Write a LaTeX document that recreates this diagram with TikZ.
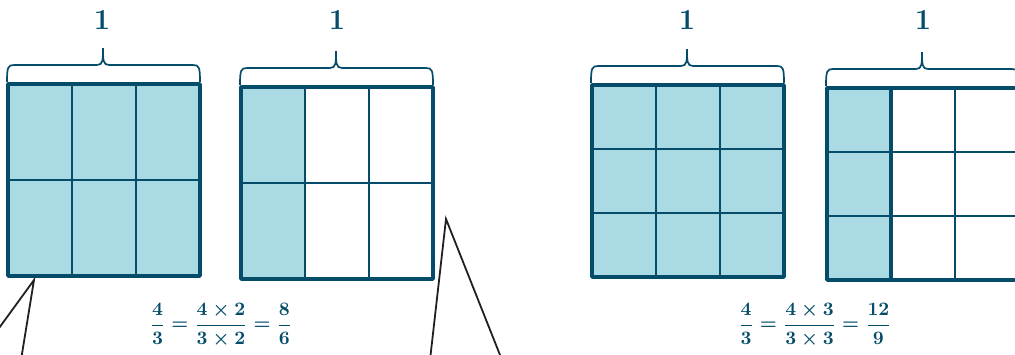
\documentclass[tikz,border=0pt]{standalone}
\usepackage{amsmath}
\usepackage{graphicx}
\usepackage{xcolor}
\usepackage{tikz}
\usetikzlibrary{positioning}
\definecolor{barblue}{RGB}{4,76,106}
\definecolor{barfill}{RGB}{170,219,228}
\definecolor{pointerink}{RGB}{35,31,32}
\tikzset{
  cell/.style={fill=barfill},
  gridline/.style={draw=barblue, line width=2pt},
  frame/.style={draw=barblue, line width=3.6pt, line join=round},
  bracepath/.style={draw=barblue, line width=1.7pt},
  unitlabel/.style={text=barblue, font=\fontsize{29}{31}\selectfont\bfseries},
  eqn/.style={text=barblue, font=\boldmath},
  pointer/.style={draw=pointerink, line width=1.8pt}
}
\newcommand{\bigeq}[1]{\scalebox{1.9}{$#1$}}
% #1 left, #2 top, #3 rows, #4 shaded columns
\newcommand{\fracbox}[4]{%
  \fill[cell] (#1,#2) rectangle ++(64*#4,192);
  \foreach \c in {1,2} \draw[gridline] (#1+64*\c,#2) -- ++(0,192);
  \pgfmathtruncatemacro\lastrow{#3-1}
  \foreach \r in {1,...,\lastrow} \draw[gridline] (#1,#2+192*\r/#3) -- ++(192,0);
  \draw[frame] (#1,#2) rectangle ++(192,192);
}
% #1 left, #2 top of box
\newcommand{\unitbrace}[2]{%
  \draw[bracepath] (#1-1,#2-2) .. controls (#1-1,#2-17) and (#1,#2-19) .. (#1+6,#2-19)
    -- (#1+89,#2-19) .. controls (#1+95,#2-19) and (#1+95,#2-24) .. (#1+95,#2-36)
    .. controls (#1+95,#2-24) and (#1+95,#2-19) .. (#1+101,#2-19)
    -- (#1+185,#2-19) .. controls (#1+191,#2-19) and (#1+192,#2-17) .. (#1+192,#2-2);
}

\begin{document}
\begin{tikzpicture}[x=1pt, y=-1pt]
    \useasboundingbox (0,0) rectangle (1015,354);
    \clip (0,0) rectangle (1015,354);

    \fracbox{8}{84}{2}{3}
    \fracbox{241}{87}{2}{1}
    \fracbox{592}{85}{3}{3}
    \fracbox{827}{88}{3}{1}
    \draw[frame] (891,88) -- (891,280);

    \unitbrace{8}{84}
    \unitbrace{241}{87}
    \unitbrace{592}{85}
    \unitbrace{827}{88}

    \node[unitlabel] (oneA) at (102,20) {1};
    \node[unitlabel] (oneB) at (337,20) {1};
    \node[unitlabel] (oneC) at (687,20) {1};
    \node[unitlabel] (oneD) at (923,20) {1};

    \node[eqn] (eqA) at (221,325) {\bigeq{\dfrac{4}{3}=\dfrac{4\times 2}{3\times 2}=\dfrac{8}{6}}};
    \node[eqn] (eqB) at (815,325) {\bigeq{\dfrac{4}{3}=\dfrac{4\times 3}{3\times 3}=\dfrac{12}{9}}};

    \coordinate (tipL) at (34,280);
    \coordinate (endLa) at (-6,335);
    \coordinate (endLb) at (21,360);
    \coordinate (tipR) at (446,219);
    \coordinate (endRa) at (430,360);
    \coordinate (endRb) at (502,360);
    \draw[pointer] (endLa) -- (tipL) -- (endLb);
    \draw[pointer] (endRa) -- (tipR) -- (endRb);
\end{tikzpicture}
\end{document}
